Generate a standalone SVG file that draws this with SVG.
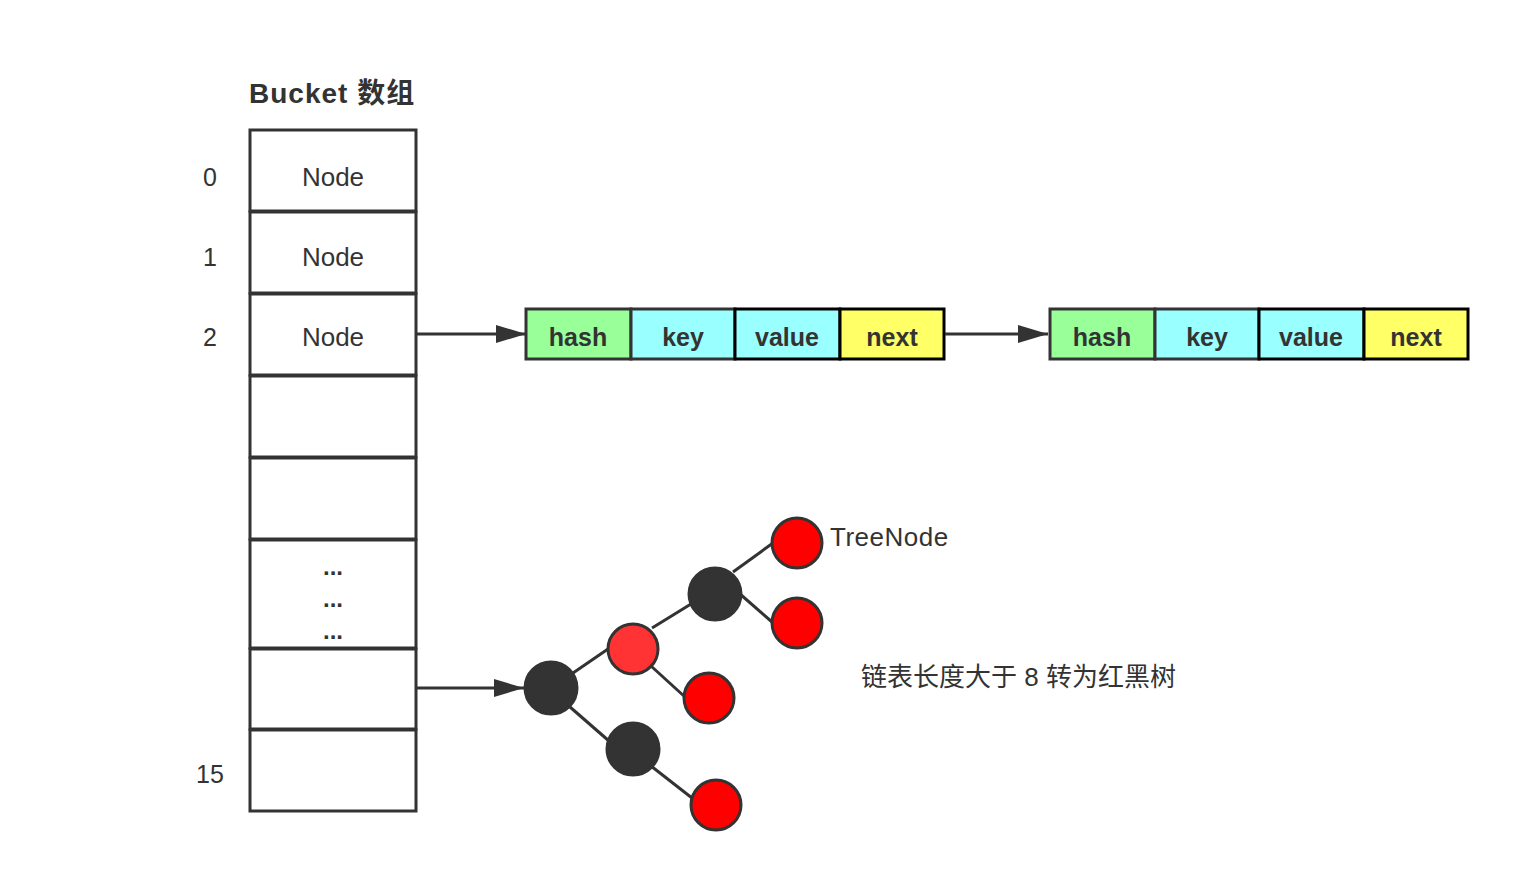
<svg xmlns="http://www.w3.org/2000/svg" width="1517" height="880" viewBox="0 0 1517 880">
<style>
text{font-family:"Liberation Sans","Noto Sans CJK SC",sans-serif;fill:#333333;}
.cell{fill:#ffffff;stroke:#333333;stroke-width:3;}
.lbl{font-size:26px;text-anchor:middle;}
.dots{font-size:24px;text-anchor:middle;font-weight:bold;}
.idx{font-size:25px;text-anchor:middle;}
.fh{fill:#99FF99;stroke:#333333;stroke-width:3;}
.fk{fill:#99FFFF;stroke:#333333;stroke-width:3;}
.fv{fill:#99FFFF;stroke:#000000;stroke-width:3;}
.fn{fill:#FFFF66;stroke:#000000;stroke-width:3;}
.ft{font-size:25px;text-anchor:middle;font-weight:bold;}
.blk{fill:#333333;stroke:#333333;stroke-width:3;}
.red{fill:#FF0000;stroke:#333333;stroke-width:3;}
.red2{fill:#FF3333;stroke:#333333;stroke-width:3;}
.edge{stroke:#333333;stroke-width:3;fill:none;}
</style>
<defs>
<marker id="arr" markerWidth="32" markerHeight="18" refX="30" refY="9" orient="auto" markerUnits="userSpaceOnUse">
<path d="M0,0 L30,9 L0,18 Z" fill="#333333"/>
</marker>
</defs>
<text x="249" y="103" font-size="28" font-weight="bold" letter-spacing="1">Bucket 数组</text>
<g id="bucket">
<rect class="cell" x="250" y="130" width="166" height="81"/>
<rect class="cell" x="250" y="212" width="166" height="81"/>
<rect class="cell" x="250" y="294" width="166" height="81"/>
<rect class="cell" x="250" y="376" width="166" height="81"/>
<rect class="cell" x="250" y="458" width="166" height="81"/>
<rect class="cell" x="250" y="540" width="166" height="108"/>
<rect class="cell" x="250" y="649" width="166" height="80"/>
<rect class="cell" x="250" y="730" width="166" height="81"/>
<text class="lbl" x="333" y="186">Node</text>
<text class="lbl" x="333" y="266">Node</text>
<text class="lbl" x="333" y="346">Node</text>
<text class="dots" x="333" y="575">...</text>
<text class="dots" x="333" y="607">...</text>
<text class="dots" x="333" y="639">...</text>
</g>
<g id="indices">
<text class="idx" x="210" y="186">0</text>
<text class="idx" x="210" y="266">1</text>
<text class="idx" x="210" y="346">2</text>
<text class="idx" x="210" y="783">15</text>
</g>
<g id="list1">
<rect class="fh" x="526" y="309" width="105" height="50"/>
<rect class="fk" x="631" y="309" width="104" height="50"/>
<rect class="fv" x="735" y="309" width="105" height="50"/>
<rect class="fn" x="840" y="309" width="104" height="50"/>
<text class="ft" x="578" y="346">hash</text>
<text class="ft" x="683" y="346">key</text>
<text class="ft" x="787" y="346">value</text>
<text class="ft" x="892" y="346">next</text>
</g>
<g id="list2">
<rect class="fh" x="1050" y="309" width="105" height="50"/>
<rect class="fk" x="1155" y="309" width="104" height="50"/>
<rect class="fv" x="1259" y="309" width="105" height="50"/>
<rect class="fn" x="1364" y="309" width="104" height="50"/>
<text class="ft" x="1102" y="346">hash</text>
<text class="ft" x="1207" y="346">key</text>
<text class="ft" x="1311" y="346">value</text>
<text class="ft" x="1416" y="346">next</text>
</g>
<g id="connectors">
<line class="edge" x1="417" y1="334" x2="526" y2="334" marker-end="url(#arr)"/>
<line class="edge" x1="945" y1="334" x2="1048" y2="334" marker-end="url(#arr)"/>
<line class="edge" x1="417" y1="688" x2="524" y2="688" marker-end="url(#arr)"/>
<line class="edge" x1="573" y1="673" x2="608" y2="649"/>
<line class="edge" x1="652" y1="628" x2="691" y2="604"/>
<line class="edge" x1="733" y1="572" x2="773" y2="543"/>
<line class="edge" x1="740" y1="594" x2="772" y2="622"/>
<line class="edge" x1="651" y1="666" x2="685" y2="697"/>
<line class="edge" x1="570" y1="707" x2="609" y2="741"/>
<line class="edge" x1="651" y1="766" x2="692" y2="798"/>
</g>
<g id="tree">
<circle class="blk" cx="551" cy="688" r="26"/>
<circle class="red2" cx="633" cy="649" r="25"/>
<circle class="blk" cx="715" cy="594" r="26"/>
<circle class="red" cx="797" cy="543" r="25"/>
<circle class="red" cx="797" cy="623" r="25"/>
<circle class="red" cx="709" cy="698" r="25"/>
<circle class="blk" cx="633" cy="749" r="26"/>
<circle class="red" cx="716" cy="805" r="25"/>
</g>
<text x="830" y="546" font-size="26" letter-spacing="0.5">TreeNode</text>
<text x="861" y="686" font-size="26">链表长度大于 8 转为红黑树</text>
</svg>
